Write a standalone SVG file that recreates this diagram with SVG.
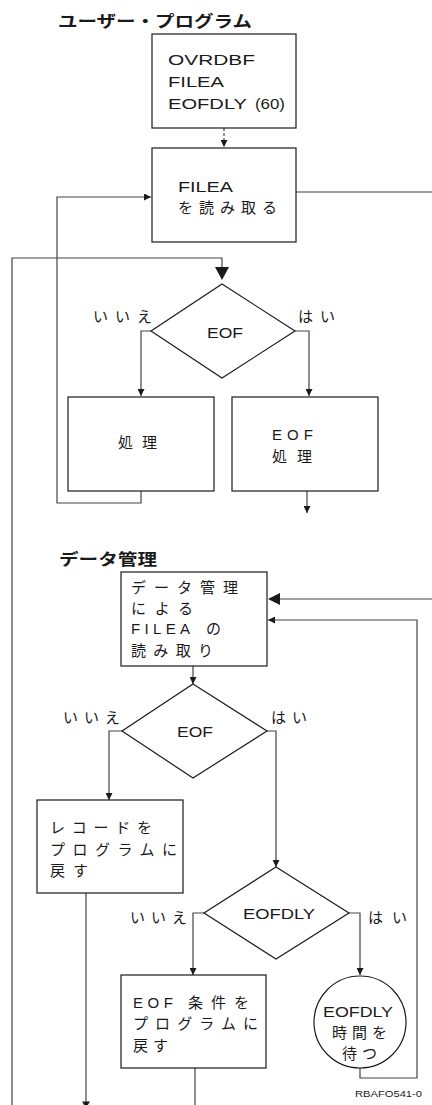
<svg xmlns="http://www.w3.org/2000/svg" width="432" height="1105" viewBox="0 0 432 1105">
<style>
.box{fill:#fff;stroke:#1a1a1a;stroke-width:1.2}
.c{fill:none;stroke:#444;stroke-width:1.2}
.t{font-family:"Liberation Sans","Noto Sans CJK JP",sans-serif;font-size:15px;fill:#1a1a1a}
.j{font-family:"Noto Sans CJK JP","Liberation Sans",sans-serif;font-size:15px;fill:#1a1a1a}
.h{font-family:"Noto Sans CJK JP","Liberation Sans",sans-serif;font-size:16px;font-weight:bold;fill:#1a1a1a}
.s{font-family:"Liberation Sans",sans-serif;font-size:9px;fill:#1a1a1a}
.ah{fill:#1a1a1a}
</style>
<defs>
<marker id="a" viewBox="0 0 10 10" refX="10" refY="5" markerWidth="7" markerHeight="7" markerUnits="userSpaceOnUse" orient="auto"><path d="M0,0L10,5L0,10z" fill="#1a1a1a"/></marker>
</defs>
<text class="h" x="58" y="27" textLength="194" lengthAdjust="spacingAndGlyphs">ユーザー・プログラム</text>
<text class="h" x="59" y="565" textLength="98" lengthAdjust="spacingAndGlyphs">データ管理</text>
<g id="connectors">
<path class="c" d="M224,128V147" stroke-dasharray="3,2" marker-end="url(#a)"/>
<path class="c" d="M296,192H432"/>
<path class="c" d="M141,491V503H57V197H151" marker-end="url(#a)"/>
<path class="c" d="M12,1105V258H222V268"/>
<polygon class="ah" points="215,267 229,267 222,280"/>
<path class="c" d="M151,331H141V396" marker-end="url(#a)"/>
<path class="c" d="M295,331H309V396" marker-end="url(#a)"/>
<path class="c" d="M307,491V513" marker-end="url(#a)"/>
<path class="c" d="M432,599H280"/>
<polygon class="ah" points="268,599 280,593 280,605"/>
<path class="c" d="M193,666V684" marker-end="url(#a)"/>
<path class="c" d="M122,731H109V800" marker-end="url(#a)"/>
<path class="c" d="M267,731H276V867" marker-end="url(#a)"/>
<path class="c" d="M86,893V1105"/>
<polygon class="ah" points="82,1101.5 90,1101.5 86,1108"/>
<path class="c" d="M204,913H193V975" marker-end="url(#a)"/>
<path class="c" d="M349,913H360V975" marker-end="url(#a)"/>
<path class="c" d="M360,1068V1078H417V620H268" marker-end="url(#a)"/>
<path class="c" d="M195,1068V1105"/>
</g>
<g id="n1">
<rect class="box" x="152" y="34" width="144" height="94"/>
<text class="t" x="168" y="65" textLength="87" lengthAdjust="spacingAndGlyphs">OVRDBF</text>
<text class="t" x="168" y="87" textLength="56" lengthAdjust="spacingAndGlyphs">FILEA</text>
<text class="t" x="168" y="109" textLength="79" lengthAdjust="spacingAndGlyphs">EOFDLY</text>
<text class="t" x="255" y="109" textLength="30" lengthAdjust="spacingAndGlyphs">(60)</text>
</g>
<g id="n2">
<rect class="box" x="152" y="148" width="144" height="94"/>
<text class="t" x="178" y="192" textLength="55" lengthAdjust="spacingAndGlyphs">FILEA</text>
<text class="j" x="178" y="213" textLength="99" lengthAdjust="spacing">を読み取る</text>
</g>
<g id="d1">
<polygon class="box" points="222,284 295,331 222,378 151,331"/>
<text class="t" x="207" y="338" textLength="36" lengthAdjust="spacingAndGlyphs">EOF</text>
<text class="j" x="93" y="322" textLength="59" lengthAdjust="spacing">いいえ</text>
<text class="j" x="298" y="322" textLength="37" lengthAdjust="spacing">はい</text>
</g>
<g id="n3">
<rect class="box" x="68" y="397" width="146" height="94"/>
<text class="j" x="118" y="448" textLength="39" lengthAdjust="spacing">処理</text>
</g>
<g id="n4">
<rect class="box" x="232" y="397" width="146" height="94"/>
<text class="t" x="272" y="440" textLength="41" lengthAdjust="spacing">EOF</text>
<text class="j" x="272" y="462" textLength="40" lengthAdjust="spacing">処理</text>
</g>
<g id="n5">
<rect class="box" x="121" y="572" width="146" height="94"/>
<text class="j" x="131" y="593" textLength="107" lengthAdjust="spacing">データ管理</text>
<text class="j" x="131" y="614" textLength="62" lengthAdjust="spacing">による</text>
<text class="t" x="131" y="634" textLength="59" lengthAdjust="spacing">FILEA</text>
<text class="j" x="206" y="634">の</text>
<text class="j" x="131" y="656" textLength="82" lengthAdjust="spacing">読み取り</text>
</g>
<g id="d2">
<polygon class="box" points="193,684 267,731 193,778 122,731"/>
<text class="t" x="177" y="737" textLength="36" lengthAdjust="spacingAndGlyphs">EOF</text>
<text class="j" x="63" y="723" textLength="57" lengthAdjust="spacing">いいえ</text>
<text class="j" x="271" y="723" textLength="36" lengthAdjust="spacing">はい</text>
</g>
<g id="n6">
<rect class="box" x="37" y="800" width="146" height="93"/>
<text class="j" x="50" y="833" textLength="102" lengthAdjust="spacing">レコードを</text>
<text class="j" x="50" y="855" textLength="127" lengthAdjust="spacing">プログラムに</text>
<text class="j" x="50" y="876" textLength="38" lengthAdjust="spacing">戻す</text>
</g>
<g id="d3">
<polygon class="box" points="276,867 349,913 276,959 204,913"/>
<text class="t" x="243" y="919" textLength="72" lengthAdjust="spacingAndGlyphs">EOFDLY</text>
<text class="j" x="130" y="923" textLength="57" lengthAdjust="spacing">いいえ</text>
<text class="j" x="368" y="923" textLength="39" lengthAdjust="spacing">はい</text>
</g>
<g id="n7">
<rect class="box" x="121" y="975" width="145" height="93"/>
<text class="t" x="133" y="1008" textLength="40" lengthAdjust="spacing">EOF</text>
<text class="j" x="188" y="1008" textLength="61" lengthAdjust="spacing">条件を</text>
<text class="j" x="133" y="1029" textLength="125" lengthAdjust="spacing">プログラムに</text>
<text class="j" x="133" y="1051" textLength="35" lengthAdjust="spacing">戻す</text>
</g>
<g id="n8">
<circle class="box" cx="360" cy="1022" r="46"/>
<text class="t" x="323" y="1017" textLength="70" lengthAdjust="spacingAndGlyphs">EOFDLY</text>
<text class="j" x="332" y="1038" textLength="55" lengthAdjust="spacing">時間を</text>
<text class="j" x="342" y="1059" textLength="35" lengthAdjust="spacing">待つ</text>
</g>
<text class="s" x="355" y="1097" textLength="67" lengthAdjust="spacingAndGlyphs">RBAFO541-0</text>
</svg>
